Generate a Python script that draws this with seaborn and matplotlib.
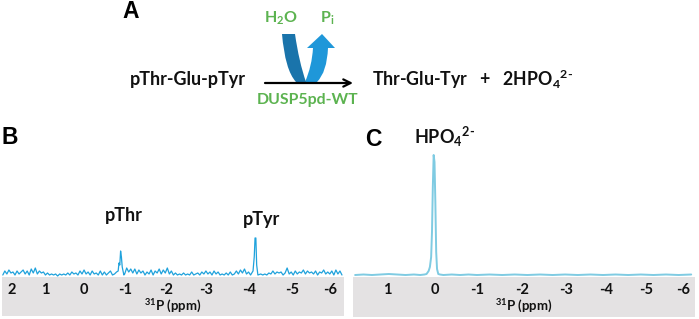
import matplotlib
matplotlib.use('Agg')
import matplotlib.pyplot as plt
import seaborn as sns
from matplotlib.patches import PathPatch, Rectangle, FancyArrowPatch
from matplotlib.path import Path

sns.set_theme(style='white')
plt.rcParams['font.family'] = ['Lato', 'DejaVu Sans']
plt.rcParams['mathtext.fontset'] = 'custom'
plt.rcParams['mathtext.rm'] = 'Lato:bold'
plt.rcParams['mathtext.it'] = 'Lato:bold'
plt.rcParams['mathtext.bf'] = 'Lato:bold'
plt.rcParams['mathtext.default'] = 'rm'

# spectrum B
ppm_b = [2.0, 1.95, 1.9, 1.85, 1.8, 1.75, 1.7, 1.65, 1.6, 1.55, 1.5, 1.45, 1.4, 1.35, 1.3, 1.25, 1.2, 1.15, 1.1, 1.05,
         1.0, 0.95, 0.9, 0.85, 0.8, 0.75, 0.7, 0.65, 0.6, 0.55, 0.5, 0.45, 0.4, 0.35, 0.3, 0.25, 0.2, 0.15, 0.1, 0.05,
         0.0, -0.05, -0.1, -0.15, -0.2, -0.25, -0.3, -0.35, -0.4, -0.45, -0.5, -0.55, -0.6, -0.65, -0.7, -0.75, -0.8,
         -0.84, -0.86, -0.88, -0.9, -0.92, -0.94, -0.98,
         -1.0, -1.05, -1.1, -1.15, -1.2, -1.25, -1.3, -1.35, -1.4, -1.45, -1.5, -1.55, -1.6, -1.65, -1.7, -1.75, -1.8,
         -1.85, -1.9, -1.95,
         -2.0, -2.05, -2.1, -2.15, -2.2, -2.25, -2.3, -2.35, -2.4, -2.45, -2.5, -2.55, -2.6, -2.65, -2.7, -2.75, -2.8,
         -2.85, -2.9, -2.95,
         -3.0, -3.05, -3.1, -3.15, -3.2, -3.25, -3.3, -3.35, -3.4, -3.45, -3.5, -3.55, -3.6, -3.65, -3.7, -3.75, -3.8,
         -3.85, -3.9, -3.95,
         -4.0, -4.05, -4.1, -4.16, -4.19, -4.21, -4.23, -4.25, -4.28,
         -4.35, -4.4, -4.45, -4.5, -4.55, -4.6, -4.65, -4.7, -4.75, -4.8, -4.85, -4.9, -4.95,
         -5.0, -5.05, -5.1, -5.15, -5.2, -5.25, -5.3, -5.35, -5.4, -5.45, -5.5, -5.55, -5.6, -5.65, -5.7, -5.75, -5.8,
         -5.85, -5.9, -5.95,
         -6.0, -6.05, -6.1, -6.15, -6.2, -6.25, -6.3, -6.35]
intensity_b = [2, 6, 3, 7, 4, 5, 2, 6, 3, 5, 7, 3, 6, 2, 8, 4, 9, 3, 6, 4,
               5, 2, 4, 2, 3, 2, 3, 1, 3, 2, 3, 2, 4, 2, 5, 3, 4, 2, 6, 3,
               7, 3, 5, 2, 6, 3, 4, 2, 6, 2, 5, 2, 4, 6, 2, 3, 5,
               6, 14, 12, 26, 20, 10, 2,
               3, 9, 5, 8, 4, 8, 3, 7, 4, 6, 2, 5, 3, 7, 2, 6, 4,
               8, 3, 7,
               4, 9, 3, 6, 2, 4, 2, 3, 2, 4, 2, 3, 2, 5, 2, 3, 4,
               2, 5, 3,
               6, 3, 5, 2, 6, 3, 5, 2, 3, 2, 4, 2, 5, 2, 3, 6, 3,
               7, 4, 8,
               3, 5, 2, 6, 20, 39, 39, 12, 2,
               3, 2, 3, 2, 4, 3, 6, 3, 5, 4, 5, 2, 4,
               9, 3, 5, 2, 6, 3, 5, 4, 7, 3, 6, 4, 5, 3, 6, 2, 5,
               4, 7, 3,
               5, 3, 6, 2, 7, 3, 6, 2]

# spectrum C
ppm_c = [1.9, 1.7, 1.5, 1.3, 1.1, 0.9, 0.7, 0.5, 0.35, 0.25, 0.2, 0.15, 0.12, 0.09, 0.07, 0.05, 0.03, 0.01,
         -0.01, -0.03, -0.05, -0.08, -0.12, -0.2, -0.4, -0.6, -0.8, -1.0, -1.3, -1.6, -1.9, -2.2, -2.5, -2.8,
         -3.1, -3.4, -3.7, -4.0, -4.3, -4.6, -4.9, -5.2, -5.5, -5.8, -6.1]
intensity_c = [2, 2.5, 2, 2.5, 3, 2.5, 2, 2.5, 2, 2.5, 3, 6, 10, 20, 45, 90, 122, 115,
               75, 25, 8, 3, 2.5, 2, 2.5, 2, 2.5, 2, 2.5, 2, 2.5, 2, 2.5, 2,
               2.5, 2, 2.5, 2, 2.5, 2, 2.5, 2, 2.5, 2, 2.5]

ticks_b = [1.78, 0.96, 0.0, -1.01, -2.02, -3.0, -4.07, -5.13, -6.05]
tick_labels_b = ['2', '1', '0', '-1', '-2', '-3', '-4', '-5', '-6']
ticks_c = [1.14, 0.0, -1.0, -2.07, -3.12, -4.07, -5.02, -5.9]
tick_labels_c = ['1', '0', '-1', '-2', '-3', '-4', '-5', '-6']

W, H = 699, 319
fig = plt.figure(figsize=(W / 100, H / 100), dpi=100, facecolor='white')

# pixel-coordinate layer for the scheme and grey strips
bg = fig.add_axes([0, 0, 1, 1], zorder=0)
bg.set_xlim(0, W)
bg.set_ylim(H, 0)
bg.axis('off')
bg.add_patch(Rectangle((2, 277), 342, 39, color='#e4e2e3', lw=0))
bg.add_patch(Rectangle((353, 277), 342, 40, color='#e4e2e3', lw=0))


def panel(left, right, xlim, x, y, color, lw, ticks, labels):
    ax = fig.add_axes([left / W, (H - 277) / H, (right - left) / W, 147 / H], zorder=1)
    ax.patch.set_visible(False)
    sns.lineplot(x=x, y=y, ax=ax, color=color, lw=lw, estimator=None, sort=False)
    ax.set_xlim(*xlim)
    ax.set_ylim(0, 147)
    ax.set_yticks([])
    ax.set_ylabel('')
    ax.set_xticks(ticks)
    ax.set_xticklabels(labels, fontsize=10.5, fontweight='bold', color='#111111')
    ax.tick_params(axis='x', length=0, pad=4)
    ax.set_xlabel('$^{31}$P (ppm)', fontsize=9.5, fontweight='bold', color='#111111', labelpad=1)
    sns.despine(ax=ax, left=True, bottom=True)
    return ax


panel(2, 344, (2.02, -6.4), ppm_b, intensity_b, '#1fa2dc', 0.9, ticks_b, tick_labels_b)
panel(353, 695, (1.95, -6.19), ppm_c, intensity_c, '#7fcbe2', 1.4, ticks_c, tick_labels_c)

# scheme arrows
dark = Path([(282, 34), (285, 70), (296, 82), (306, 82), (299, 62), (295, 34), (282, 34)],
            [Path.MOVETO, Path.CURVE3, Path.CURVE3, Path.LINETO, Path.CURVE3, Path.CURVE3, Path.CLOSEPOLY])
light = Path([(305, 82), (317, 82), (327, 72), (328, 48), (335, 48), (322, 34), (307, 48), (313, 48),
              (312, 66), (305, 82), (305, 82)],
             [Path.MOVETO, Path.LINETO, Path.CURVE3, Path.CURVE3, Path.LINETO, Path.LINETO, Path.LINETO,
              Path.LINETO, Path.CURVE3, Path.CURVE3, Path.CLOSEPOLY])
bg.add_patch(PathPatch(light, facecolor='#1f97d9', lw=0))
bg.add_patch(PathPatch(dark, facecolor='#1a74ab', lw=0))
bg.add_patch(FancyArrowPatch((265, 83), (353, 83), arrowstyle='->', mutation_scale=13, lw=1.6,
                             color='black', shrinkA=0, shrinkB=0))

green = '#5cb350'
black_txt = '#111111'
bold = dict(fontweight='bold', ha='center', va='center')
bg.text(281, 18, 'H$_2$O', color=green, fontsize=11.5, **bold)
bg.text(327, 18, 'P$_i$', color=green, fontsize=11.5, **bold)
bg.text(308, 100, 'DUSP5pd-WT', color=green, fontsize=11.4, **bold)
bg.text(188, 79, 'pThr-Glu-pTyr', color=black_txt, fontsize=13, **bold)
bg.text(372, 79, 'Thr-Glu-Tyr   +   2HPO$_4$$^{2\\text{-}}$', color=black_txt, fontsize=12.8, fontweight='bold',
        ha='left', va='center')
bg.text(124, 216, 'pThr', color=black_txt, fontsize=13, **bold)
bg.text(262, 219, 'pTyr', color=black_txt, fontsize=13, **bold)
bg.text(445, 137, 'HPO$_4$$^{2\\text{-}}$', color=black_txt, fontsize=13, **bold)

letter = dict(fontweight='bold', ha='center', va='center', color='black', fontsize=16.5, family='Liberation Sans')
bg.text(131, 12, 'A', **letter)
bg.text(10, 138, 'B', **letter)
bg.text(373, 139, 'C', **letter)

fig.savefig('out.png', dpi=100)
